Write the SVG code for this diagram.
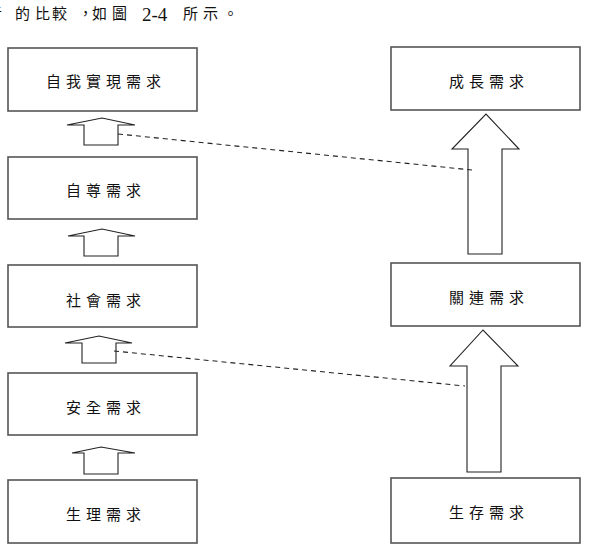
<svg xmlns="http://www.w3.org/2000/svg" width="594" height="546" viewBox="0 0 594 546">
<style>
.box{fill:#fff;stroke:#555;stroke-width:1.6}
.arr{fill:#fff;stroke:#222;stroke-width:1.1}
.lbl{font-family:"Noto Sans CJK TC","Noto Sans CJK SC",sans-serif;font-size:15px;letter-spacing:5px;text-anchor:middle;fill:#111}
.dash{stroke:#222;stroke-width:1.1;stroke-dasharray:5,4;fill:none}
.cap{font-family:"Noto Sans CJK TC","Noto Sans CJK SC",sans-serif;font-size:15px;fill:#111}
</style>
<rect width="594" height="546" fill="#fff"/>
<text class="cap" y="19" x="-13 15 35 52 78 92 112">者的比較，如圖</text>
<text class="cap" y="21" x="142" style="font-family:'Liberation Serif',serif;font-size:19px">2-4</text>
<text class="cap" y="19" x="183 203 223">所示。</text>
<g id="n1"><rect class="box" x="8" y="48" width="189" height="63"/><text class="lbl" x="106" y="87">自我實現需求</text></g>
<g id="n2"><rect class="box" x="8" y="157" width="189" height="62"/><text class="lbl" x="106" y="196">自尊需求</text></g>
<g id="n3"><rect class="box" x="8" y="265" width="189" height="62"/><text class="lbl" x="106" y="306">社會需求</text></g>
<g id="n4"><rect class="box" x="8" y="373" width="189" height="62"/><text class="lbl" x="106" y="413">安全需求</text></g>
<g id="n5"><rect class="box" x="8" y="480" width="189" height="63"/><text class="lbl" x="106" y="520">生理需求</text></g>
<g id="r1"><rect class="box" x="391" y="47" width="189" height="63"/><text class="lbl" x="489" y="87">成長需求</text></g>
<g id="r2"><rect class="box" x="391" y="263" width="189" height="63"/><text class="lbl" x="489" y="303">關連需求</text></g>
<g id="r3"><rect class="box" x="391" y="478" width="189" height="65"/><text class="lbl" x="489" y="518">生存需求</text></g>
<g id="connectors">
<path class="arr" d="M84,145 V125 H67 L102,118 L135,125 H118 V145 Z"/>
<path class="arr" d="M84,256 V236 H68 L102,229 L135,236 H118 V256 Z"/>
<path class="arr" d="M82,363 V343 H65 L99,336 L132,343 H116 V363 Z"/>
<path class="arr" d="M84,474 V453 H72 L101,447 L135,453 H118 V474 Z"/>
<path class="arr" d="M468,254 V149 H452 L486,114 L519,149 H502 V254 Z"/>
<path class="arr" d="M467,472 V366 H450 L483,330 L518,366 H501 V472 Z"/>
<line class="dash" x1="118" y1="134" x2="472" y2="170"/>
<line class="dash" x1="114" y1="351" x2="465" y2="386"/>
</g>
</svg>
